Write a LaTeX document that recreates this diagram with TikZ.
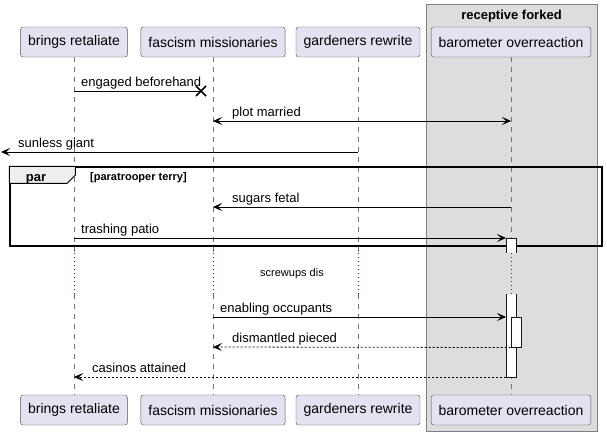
\documentclass[tikz,border=0pt]{standalone}
\usepackage{fontspec}
\setmainfont{Liberation Sans}
\usetikzlibrary{arrows.meta, positioning, calc}
\definecolor{partfill}{RGB}{226,226,240}
\definecolor{partline}{RGB}{24,24,24}
\definecolor{groupfill}{RGB}{221,221,221}
\definecolor{delayred}{RGB}{168,0,54}
\definecolor{tabfill}{RGB}{238,238,238}

\begin{document}
\begin{tikzpicture}[
    x=1pt, y=-1pt,
    part/.style={draw=partline!75, fill=partfill, rounded corners=2.5pt,
                 minimum height=30pt, inner xsep=7.5pt,
                 font=\fontsize{14}{16}\selectfont},
    life/.style={partline!60, line width=0.5pt, dash pattern=on 5pt off 5pt},
    pause/.style={delayred, line width=0.8pt, dash pattern=on 0.8pt off 3.2pt},
    tip/.style={-{Stealth[length=9pt, width=8pt, inset=4pt]}},
    msg/.style={tip, line width=0.8pt},
    both/.style={{Stealth[length=9pt, width=8pt, inset=4pt]}-{Stealth[length=9pt, width=8pt, inset=4pt]},
                 line width=0.8pt},
    reply/.style={msg, dash pattern=on 2pt off 2pt},
    lbl/.style={anchor=base west, inner sep=0pt, font=\fontsize{13}{15}\selectfont},
    act/.style={draw=partline, line width=1pt}
  ]
    \useasboundingbox (0,0) rectangle (607,436);

    %% GROUP BOX
    \node[draw=black!50, fill=groupfill, line width=1pt, inner sep=0pt,
          minimum width=171pt, minimum height=426pt] (grp) at (511.5,218) {};
    \node[anchor=base, inner sep=0pt, font=\bfseries\fontsize{13}{15}\selectfont]
      (grptitle) at (511.5,20) {receptive forked};

    %% PARTICIPANTS
    \node[part] (retT) at (74,42)  {brings retaliate};
    \node[part] (misT) at (213,42) {fascism missionaries};
    \node[part] (garT) at (358,42) {gardeners rewrite};
    \node[part] (barT) at (511,42) {barometer overreaction};
    \node[part] (retB) at (74,410)  {brings retaliate};
    \node[part] (misB) at (213,410) {fascism missionaries};
    \node[part] (garB) at (358,410) {gardeners rewrite};
    \node[part] (barB) at (511,410) {barometer overreaction};

    %% ROWS
    \coordinate (r1) at (0,91);
    \coordinate (r2) at (0,121);
    \coordinate (r3) at (0,152);
    \coordinate (r4) at (0,207);
    \coordinate (r5) at (0,238);
    \coordinate (d1) at (0,253);
    \coordinate (d2) at (0,294);
    \coordinate (r6) at (0,317);
    \coordinate (r7) at (0,347);
    \coordinate (r8) at (0,377);
    \coordinate (kill) at (201,91);
    \coordinate (lost) at (1,152);
    \coordinate (actL) at (506,0);

    %% LIFELINES
    \foreach \p in {ret,mis,gar,bar} {
      \draw[life] (\p T.south) -- (\p T |- d1);
      \draw[pause] (\p T |- d1) -- (\p T |- d2);
      \draw[life] (\p T |- d2) -- (\p B.north);
    }

    %% PAR FRAME
    \node[draw, line width=1.5pt, inner sep=0pt, minimum width=592pt,
          minimum height=79pt] (parbox) at (306,206.5) {};
    \draw[fill=tabfill, line width=1pt] (parbox.north west) -- ++(66,0) -- ++(0,9)
      -- ++(-8,8) -- ++(-58,0) -- cycle;
    \node[anchor=base, inner sep=0pt, font=\bfseries\fontsize{13}{15}\selectfont]
      (partag) at (36,181) {par};
    \node[anchor=base west, inner sep=0pt, font=\bfseries\fontsize{11}{13}\selectfont]
      (parcond) at (90,180) {[paratrooper terry]};

    %% ACTIVATIONS
    \fill[white] (actL |- r5) rectangle ($(actL |- d1)+(10,0)$);
    \draw[act] (actL |- d1) -- (actL |- r5) -- ++(10,0) -- ($(actL |- d1)+(10,0)$);
    \fill[white] (actL |- d2) rectangle ($(actL |- r8)+(10,0)$);
    \draw[act] (actL |- d2) -- (actL |- r8) -- ++(10,0) -- ($(actL |- d2)+(10,0)$);
    \node[act, fill=white, inner sep=0pt, minimum width=10pt, minimum height=30pt]
      (nested) at (516,332) {};

    %% MESSAGES
    \draw[line width=0.8pt] (retT |- r1) -- (kill);
    \draw[line width=1.5pt] ($(kill)+(-5,-5)$) -- ($(kill)+(5,5)$)
      ($(kill)+(-5,5)$) -- ($(kill)+(5,-5)$);
    \node[lbl] at ($(retT |- r1)+(7,-5)$) {engaged beforehand};

    \draw[both] (misT |- r2) -- (barT |- r2);
    \node[lbl] at ($(misT |- r2)+(19,-5)$) {plot married};

    \draw[msg] (garT |- r3) -- (lost);
    \node[lbl] at ($(lost)+(17,-5)$) {sunless giant};

    \draw[msg] (barT |- r4) -- (misT |- r4);
    \node[lbl] at ($(misT |- r4)+(19,-5)$) {sugars fetal};

    \draw[msg] (retT |- r5) -- (actL |- r5);
    \node[lbl] at ($(retT |- r5)+(7,-5)$) {trashing patio};

    \node[inner sep=0pt, font=\fontsize{11}{13}\selectfont] (delay) at (292,274) {screwups dis};

    \draw[msg] (misT |- r6) -- (actL |- r6);
    \node[lbl] at ($(misT |- r6)+(7,-5)$) {enabling occupants};

    \draw[reply] (nested.south west) -- (misT |- r7);
    \node[lbl] at ($(misT |- r7)+(19,-5)$) {dismantled pieced};

    \draw[reply] (actL |- r8) -- (retT |- r8);
    \node[lbl] at ($(retT |- r8)+(18,-5)$) {casinos attained};
  \end{tikzpicture}
\end{document}
